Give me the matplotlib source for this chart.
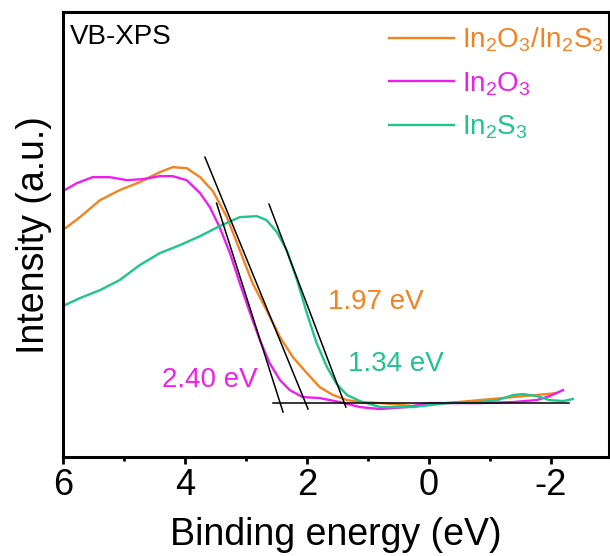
import matplotlib
matplotlib.use("Agg")
import matplotlib.pyplot as plt
from matplotlib.ticker import MultipleLocator

plt.rcParams["font.family"] = ["Liberation Sans", "DejaVu Sans"]
plt.rcParams["mathtext.fontset"] = "custom"
plt.rcParams["mathtext.rm"] = "Liberation Sans"
plt.rcParams["mathtext.default"] = "regular"
plt.rcParams["axes.unicode_minus"] = False

# VB-XPS spectra (binding energy in eV, intensity in a.u.)
be_comp = [6.0, 5.72, 5.39, 5.07, 4.74, 4.41, 4.2, 3.97, 3.75, 3.54, 3.31, 3.1, 2.89,
           2.66, 2.44, 2.23, 2.0, 1.79, 1.57, 1.34, 1.13, 0.8, 0.26, -0.3, -0.84,
           -1.38, -1.93, -2.1]
int_comp = [227, 240, 257, 267, 275, 285, 290, 289, 280, 266, 240, 207, 174,
            147, 120, 100, 84, 70, 62, 57, 55, 54, 51, 54, 57,
            60, 63, 64]

be_o = [6.0, 5.77, 5.51, 5.23, 4.95, 4.69, 4.41, 4.2, 3.97, 3.75, 3.59, 3.43, 3.26,
        3.1, 2.93, 2.77, 2.61, 2.44, 2.28, 2.07, 1.79, 1.46, 1.13, 0.8, 0.36, -0.02,
        -0.46, -0.84, -1.38, -1.77, -1.98, -2.2]
int_o = [266, 274, 280, 280, 277, 278, 281, 281, 277, 264, 250, 230, 204,
         174, 144, 117, 94, 77, 67, 60, 59, 55, 50, 48, 50, 54,
         54, 54, 55, 57, 61, 67]

be_s = [6.0, 5.72, 5.39, 5.07, 4.74, 4.41, 4.08, 3.75, 3.43, 3.1, 2.82, 2.66, 2.49,
        2.33, 2.16, 2.0, 1.84, 1.67, 1.51, 1.34, 1.13, 0.8, 0.26, -0.3, -0.84, -1.13,
        -1.38, -1.54, -1.77, -1.98, -2.2, -2.36]
int_s = [151, 159, 167, 177, 192, 204, 212, 221, 231, 240, 241, 237, 225,
         207, 177, 144, 114, 90, 73, 62, 56, 50, 50, 54, 55, 57,
         62, 63, 61, 57, 56, 58]

# linear extrapolation lines (start, end)
tan_o_x, tan_o_y = [3.48, 2.39], [254, 45]
tan_comp_x, tan_comp_y = [3.67, 1.98], [300, 48]
tan_s_x, tan_s_y = [2.62, 1.36], [253, 50]
base_x, base_y = [2.56, -2.3], [54, 54]

c_comp = "#F5821F"
c_o = "#EE1FEE"
c_s = "#20C48F"

fig = plt.figure(figsize=(6.1, 5.56), dpi=100)
ax = fig.add_axes([0.103, 0.178, 0.895, 0.8])

ax.plot(be_comp, int_comp, color=c_comp, lw=1.7, label=r"In$_2$O$_3$/In$_2$S$_3$")
ax.plot(be_o, int_o, color=c_o, lw=1.7, label=r"In$_2$O$_3$")
ax.plot(be_s, int_s, color=c_s, lw=1.7, label=r"In$_2$S$_3$")

for tx, ty in [(tan_o_x, tan_o_y), (tan_comp_x, tan_comp_y), (tan_s_x, tan_s_y), (base_x, base_y)]:
    ax.plot(tx, ty, color="black", lw=1.1)

ax.text(3.59, 77, "2.40 eV", color=c_o, fontsize=20, ha="center", va="center")
ax.text(0.87, 155, "1.97 eV", color=c_comp, fontsize=20, ha="center", va="center")
ax.text(0.54, 93, "1.34 eV", color=c_s, fontsize=20, ha="center", va="center")
ax.text(0.013, 0.945, "VB-XPS", transform=ax.transAxes, fontsize=20, ha="left", va="center")

ax.legend(loc="upper right", bbox_to_anchor=(1.012, 0.995), frameon=False, fontsize=20,
          handlelength=2.35, handletextpad=0.3, labelspacing=0.58, labelcolor="linecolor",
          borderaxespad=0)

ax.set_xlim(6, -2.95)
ax.set_ylim(0, 445)
ax.xaxis.set_major_locator(MultipleLocator(2))
ax.xaxis.set_minor_locator(MultipleLocator(1))
ax.set_yticks([])
ax.tick_params(axis="x", which="major", direction="out", length=5, width=2, labelsize=26, pad=3)
ax.tick_params(axis="x", which="minor", direction="out", length=3, width=2)
for sp in ax.spines.values():
    sp.set_linewidth(2.2)

ax.set_xlabel("Binding energy (eV)", fontsize=27, labelpad=10)
ax.set_ylabel("Intensity (a.u.)", fontsize=27, labelpad=8)

fig.savefig("out.png", dpi=100)
